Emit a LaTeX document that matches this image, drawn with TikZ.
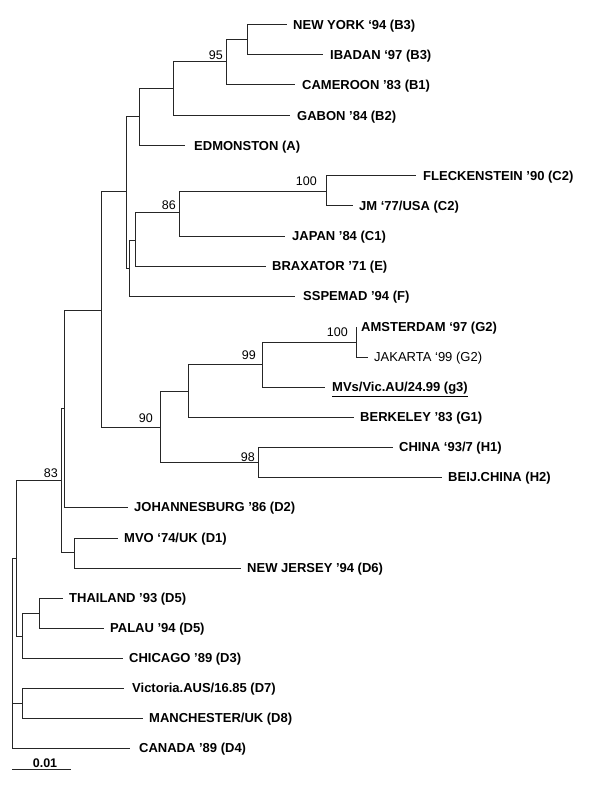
\documentclass[tikz,border=0pt]{standalone}
\usepackage{fontspec}
\setmainfont{Liberation Sans}
\begin{document}
\begin{tikzpicture}[x=1pt,y=-1pt,
  br/.style={line width=1pt, draw=black!85},
  lab/.style={anchor=base west, inner sep=0pt, font=\fontsize{13}{15}\selectfont\bfseries},
  labr/.style={anchor=base west, inner sep=0pt, font=\fontsize{13}{15}\selectfont},
  bs/.style={anchor=base east, inner sep=0pt, font=\fontsize{12.5}{14}\selectfont}]
\useasboundingbox (0,0) rectangle (600,786);
% internal nodes
\coordinate (R0) at (12,653);
\coordinate (N16) at (16,558);
\coordinate (N61) at (61,480);
\coordinate (N64) at (64,408);
\coordinate (N101) at (101,310);
\coordinate (N126) at (126,192);
\coordinate (N139) at (139,117);
\coordinate (N173) at (173,89);
\coordinate (N226) at (226,62);
\coordinate (N247) at (247,40);
\coordinate (N129) at (129,268);
\coordinate (N135) at (135,240);
\coordinate (N179) at (179,213);
\coordinate (N326) at (326,192);
\coordinate (N160) at (160,427);
\coordinate (N188) at (188,391);
\coordinate (N262) at (262,364);
\coordinate (N356) at (356,342);
\coordinate (N258) at (258,462);
\coordinate (N74) at (74,552);
\coordinate (N22a) at (22,636);
\coordinate (N39) at (39,613);
\coordinate (N22b) at (22,703);
% leaves
\coordinate (NY) at (287,25);
\coordinate (IB) at (323,55);
\coordinate (CAM) at (295,85);
\coordinate (GAB) at (290,116);
\coordinate (EDM) at (185,146);
\coordinate (FLK) at (416,176);
\coordinate (JM) at (353,206);
\coordinate (JAP) at (285,236);
\coordinate (BRAX) at (266,266);
\coordinate (SSP) at (295,296);
\coordinate (AMS) at (356,327);
\coordinate (JAK) at (368,357);
\coordinate (MVS) at (325,387);
\coordinate (BERK) at (354,417);
\coordinate (CHN) at (393,447);
\coordinate (BEIJ) at (442,477);
\coordinate (JOH) at (128,507);
\coordinate (MVO) at (118,538);
\coordinate (NJ) at (241,568);
\coordinate (THAI) at (63,598);
\coordinate (PAL) at (104,628);
\coordinate (CHI) at (123,658);
\coordinate (VIC) at (124,688);
\coordinate (MAN) at (143,718);
\coordinate (CAN) at (130,748);
% branches
\draw[br] (R0) |- (N16); \draw[br] (R0) |- (CAN); \draw[br] (R0) |- (N22b);
\draw[br] (N16) |- (N61); \draw[br] (N16) |- (N22a);
\draw[br] (N61) |- (N64); \draw[br] (N61) |- (N74);
\draw[br] (N64) |- (N101); \draw[br] (N64) |- (JOH);
\draw[br] (N101) |- (N126); \draw[br] (N101) |- (N160);
\draw[br] (N126) |- (N139); \draw[br] (N126) |- (N129);
\draw[br] (N139) |- (N173); \draw[br] (N139) |- (EDM);
\draw[br] (N173) |- (N226); \draw[br] (N173) |- (GAB);
\draw[br] (N226) |- (N247); \draw[br] (N226) |- (CAM);
\draw[br] (N247) |- (NY); \draw[br] (N247) |- (IB);
\draw[br] (N129) |- (N135); \draw[br] (N129) |- (SSP);
\draw[br] (N135) |- (N179); \draw[br] (N135) |- (BRAX);
\draw[br] (N179) |- (N326); \draw[br] (N179) |- (JAP);
\draw[br] (N326) |- (FLK); \draw[br] (N326) |- (JM);
\draw[br] (N160) |- (N188); \draw[br] (N160) |- (N258);
\draw[br] (N188) |- (N262); \draw[br] (N188) |- (BERK);
\draw[br] (N262) |- (N356); \draw[br] (N262) |- (MVS);
\draw[br] (N356) |- (AMS); \draw[br] (N356) |- (JAK);
\draw[br] (N258) |- (CHN); \draw[br] (N258) |- (BEIJ);
\draw[br] (N74) |- (MVO); \draw[br] (N74) |- (NJ);
\draw[br] (N22a) |- (N39); \draw[br] (N22a) |- (CHI);
\draw[br] (N39) |- (THAI); \draw[br] (N39) |- (PAL);
\draw[br] (N22b) |- (VIC); \draw[br] (N22b) |- (MAN);
% leaf labels
\node[lab] (tNY) at (293,29.7) {NEW YORK ‘94 (B3)};
\node[lab] (tIB) at (330,59.7) {IBADAN ‘97 (B3)};
\node[lab] (tCAM) at (302,89.7) {CAMEROON ’83 (B1)};
\node[lab] (tGAB) at (297,120.7) {GABON ’84 (B2)};
\node[lab] (tEDM) at (194,150.7) {EDMONSTON (A)};
\node[lab] (tFLK) at (423,180.7) {FLECKENSTEIN ’90 (C2)};
\node[lab] (tJM) at (359,210.7) {JM ‘77/USA (C2)};
\node[lab] (tJAP) at (292,240.7) {JAPAN ’84 (C1)};
\node[lab] (tBRAX) at (272,270.7) {BRAXATOR ’71 (E)};
\node[lab] (tSSP) at (303,300.7) {SSPEMAD ’94 (F)};
\node[lab] (tAMS) at (361,331.7) {AMSTERDAM ‘97 (G2)};
\node[labr] (tJAK) at (374,361.7) {JAKARTA ‘99 (G2)};
\node[lab] (tMVS) at (332,391.7) {\underline{MVs/Vic.AU/24.99 (g3)}};
\node[lab] (tBERK) at (360,421.7) {BERKELEY ’83 (G1)};
\node[lab] (tCHN) at (399,451.7) {CHINA ‘93/7 (H1)};
\node[lab] (tBEIJ) at (448,481.7) {BEIJ.CHINA (H2)};
\node[lab] (tJOH) at (134,511.7) {JOHANNESBURG ’86 (D2)};
\node[lab] (tMVO) at (124,542.7) {MVO ‘74/UK (D1)};
\node[lab] (tNJ) at (247,572.7) {NEW JERSEY ’94 (D6)};
\node[lab] (tTHAI) at (69,602.7) {THAILAND ’93 (D5)};
\node[lab] (tPAL) at (110,632.7) {PALAU ’94 (D5)};
\node[lab] (tCHI) at (129,662.7) {CHICAGO ’89 (D3)};
\node[lab] (tVIC) at (132,692.7) {Victoria.AUS/16.85 (D7)};
\node[lab] (tMAN) at (149,722.7) {MANCHESTER/UK (D8)};
\node[lab] (tCAN) at (139,752.7) {CANADA ’89 (D4)};
% bootstrap values
\node[bs] (b95) at (223,60) {95};
\node[bs] (b86) at (176,209.5) {86};
\node[bs] (b100a) at (317,186) {100};
\node[bs] (b100b) at (348,336) {100};
\node[bs] (b99) at (256,359) {99};
\node[bs] (b90) at (153,422) {90};
\node[bs] (b98) at (255,461.5) {98};
\node[bs] (b83) at (58,477) {83};
% scale bar
\coordinate (sb1) at (12,769);
\coordinate (sb2) at (71,769);
\draw[br] (sb1) -- (sb2);
\node[anchor=base, inner sep=0pt, font=\fontsize{12.5}{14}\selectfont\bfseries] (sbl) at (45,767) {0.01};
\end{tikzpicture}
\end{document}
